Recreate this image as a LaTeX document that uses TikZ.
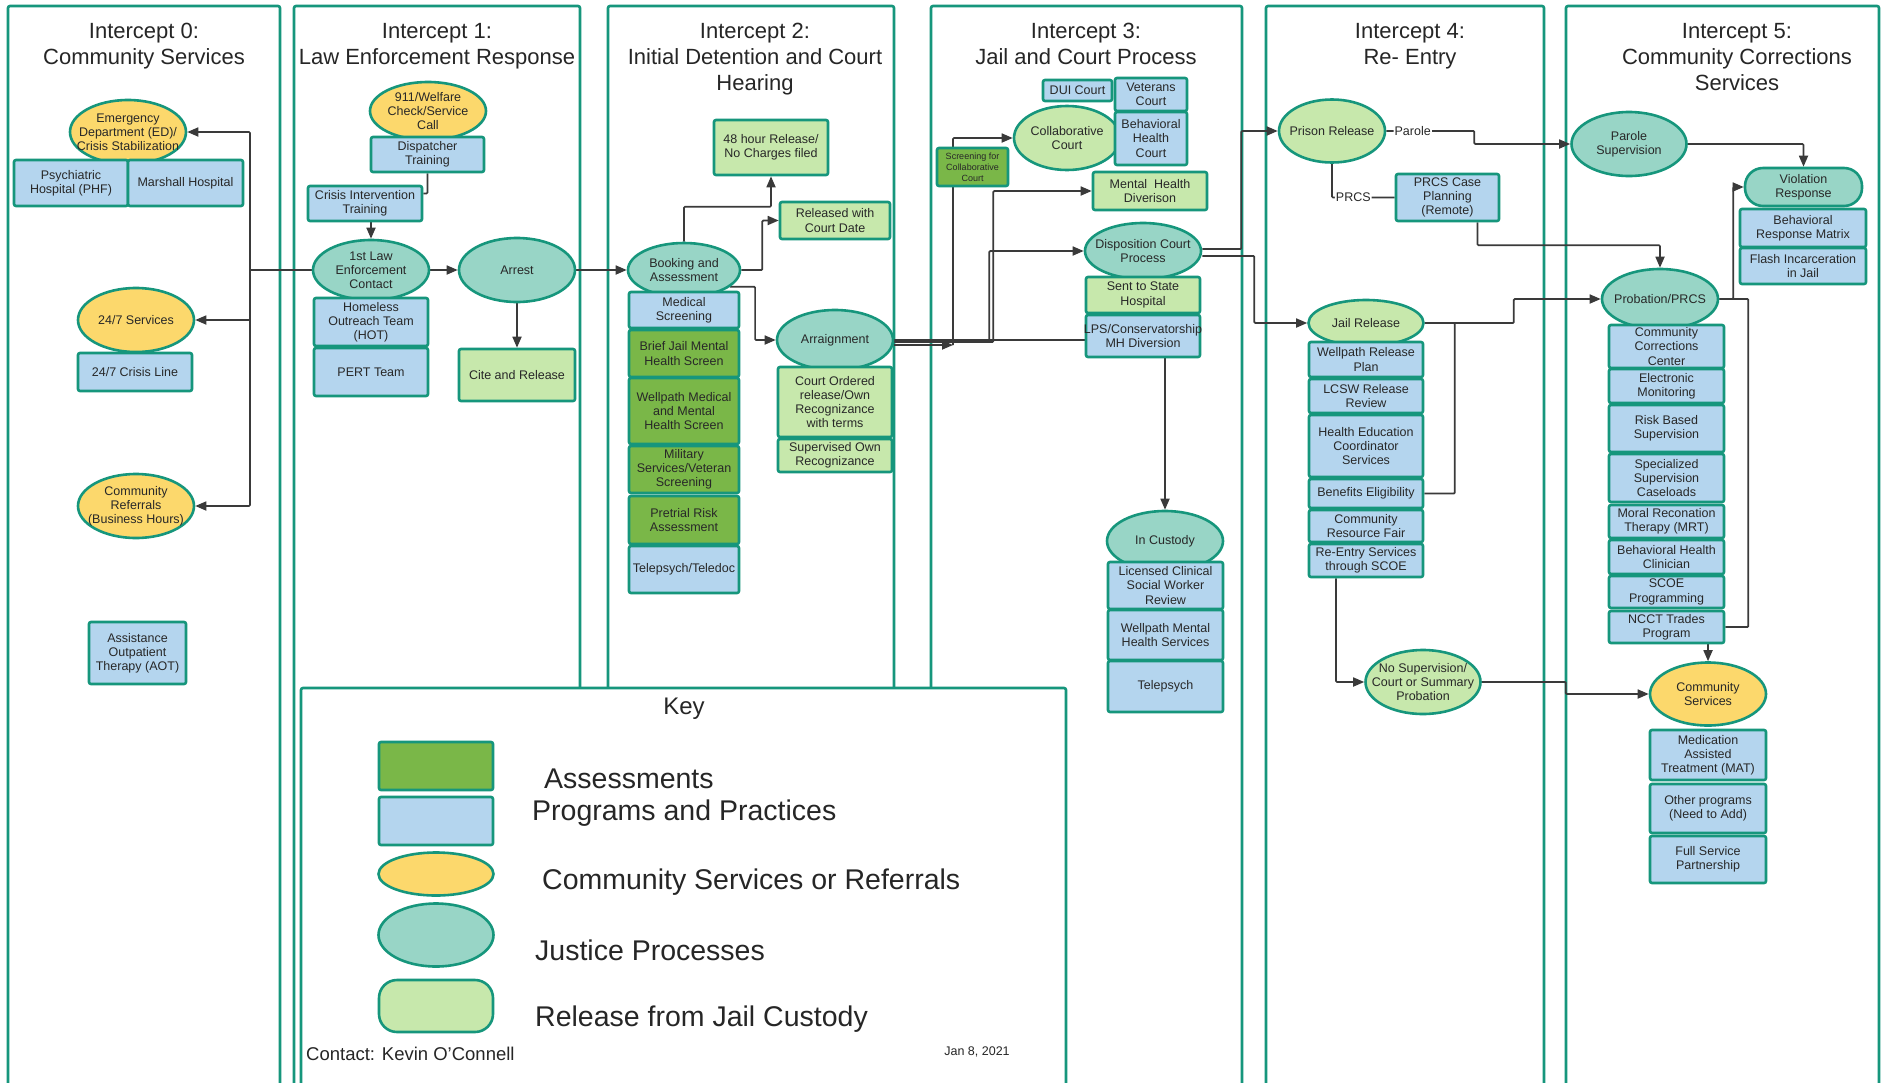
\documentclass[tikz,border=0pt]{standalone}
\usepackage{fontspec}
\setmainfont{Liberation Sans}
\usetikzlibrary{shapes.geometric,arrows.meta}
\pgfdeclarelayer{back}
\pgfsetlayers{back,main}
\definecolor{laneteal}{RGB}{22,150,124}
\definecolor{progblue}{RGB}{180,213,238}
\definecolor{assessgreen}{RGB}{122,183,72}
\definecolor{relgreen}{RGB}{199,232,172}
\definecolor{commyellow}{RGB}{252,216,108}
\definecolor{justteal}{RGB}{152,213,198}
\definecolor{wiregrey}{RGB}{58,58,58}
\definecolor{inkgrey}{RGB}{40,40,40}
\tikzset{
  shp/.style={draw=laneteal, line width=2.6pt, text=inkgrey, align=center, inner sep=1pt,
    font=\fontsize{12.5}{14.2}\selectfont},
  lbl/.style={text=inkgrey, align=center, inner sep=0pt, font=\fontsize{12.5}{14.2}\selectfont},
  prog/.style={shp, rectangle, rounded corners=2pt, fill=progblue},
  assess/.style={shp, rectangle, rounded corners=2pt, fill=assessgreen},
  freed/.style={shp, rectangle, rounded corners=2pt, fill=relgreen},
  commsvc/.style={shp, ellipse, fill=commyellow, label={[lbl]center:{#1}}},
  justice/.style={shp, ellipse, fill=justteal, label={[lbl]center:{#1}}},
  freedell/.style={shp, ellipse, fill=relgreen, label={[lbl]center:{#1}}},
  sz/.style 2 args={minimum width=#1pt, minimum height=#2pt},
  lane/.style={draw=laneteal, line width=2.6pt, rounded corners=2pt},
  lanetitle/.style={anchor=north, align=center, inner sep=0pt, text=black!85,
    font=\fontsize{22}{26}\selectfont},
  wire/.style={draw=wiregrey, line width=1.7pt, rounded corners=1pt},
  flow/.style={wire, -{Triangle[length=11pt,width=9pt]}},
  wirelbl/.style={fill=white, inner sep=1pt, text=inkgrey, font=\fontsize{12.5}{14}\selectfont},
  keytext/.style={anchor=west, inner sep=0pt, text=black!85, font=\fontsize{28.5}{32}\selectfont},
}
\begin{document}
\begin{tikzpicture}[x=1pt, y=-1pt]
  \useasboundingbox (0,0) rectangle (1881,1082);
  \begin{pgfonlayer}{back}
    \fill[white] (0,0) rectangle (1881,1082);
    \foreach \xa/\xb in {8/280, 294/580, 608/894, 931/1242, 1266/1544, 1566/1879}
      \draw[lane] (\xa,6) rectangle (\xb,1100);
  \end{pgfonlayer}

  \node[lanetitle] (t0) at (144,23) {Intercept 0:\\Community Services};
  \node[lanetitle] (t1) at (437,23) {Intercept 1:\\Law Enforcement Response};
  \node[lanetitle] (t2) at (755,23) {Intercept 2:\\Initial Detention and Court\\Hearing};
  \node[lanetitle] (t3) at (1086,23) {Intercept 3:\\Jail and Court Process};
  \node[lanetitle] (t4) at (1410,23) {Intercept 4:\\Re- Entry};
  \node[lanetitle] (t5) at (1737,23) {Intercept 5:\\Community Corrections\\Services};

  % Intercept 0
  \node[commsvc={Emergency\\Department (ED)/\\Crisis Stabilization}, sz={116}{64}] (ed) at (128,132) {};
  \node[prog, sz={114}{46}] (phf) at (71,183) {Psychiatric\\Hospital (PHF)};
  \node[prog, sz={115}{46}] (marsh) at (185.5,183) {Marshall Hospital};
  \node[commsvc={24/7 Services}, sz={116}{64}] (s247) at (136,320) {};
  \node[prog, sz={114}{38}] (cline) at (135,372) {24/7 Crisis Line};
  \node[commsvc={Community\\Referrals\\(Business Hours)}, sz={116}{64}] (cref) at (136,506) {};
  \node[prog, sz={97}{62}] (aot) at (137.5,653) {Assistance\\Outpatient\\Therapy (AOT)};

  % Intercept 1
  \node[commsvc={911/Welfare\\Check/Service\\Call}, sz={116}{58}] (call) at (428,111) {};
  \node[prog, sz={113}{35}] (dispatch) at (427.5,154.5) {Dispatcher\\Training};
  \node[prog, sz={114}{35}] (crisis) at (365,203.5) {Crisis Intervention\\Training};
  \node[justice={1st Law\\Enforcement\\Contact}, sz={116}{60}] (le) at (371,270) {};
  \node[prog, sz={114}{48}] (hot) at (371,322) {Homeless\\Outreach Team\\(HOT)};
  \node[prog, sz={114}{48}] (pert) at (371,372) {PERT Team};
  \node[justice={Arrest}, sz={116}{64}] (arrest) at (517,270) {};
  \node[freed, sz={116}{52}] (cite) at (517,375) {Cite and Release};

  % Intercept 2
  \node[freed, sz={114}{55}] (h48) at (771,147.5) {48 hour Release/\\No Charges filed};
  \node[freed, sz={110}{37}] (relcd) at (835,220.5) {Released with\\Court Date};
  \node[justice={Booking and\\Assessment}, sz={112}{54}] (book) at (684,270) {};
  \node[prog, sz={110}{36}] (med) at (684,310) {Medical\\Screening};
  \node[assess, sz={110}{47}] (brief) at (684,353.5) {Brief Jail Mental\\Health Screen};
  \node[assess, sz={110}{66}] (wellmed) at (684,411) {Wellpath Medical\\and Mental\\Health Screen};
  \node[assess, sz={110}{47}] (mil) at (684,469.5) {Military\\Services/Veteran\\Screening};
  \node[assess, sz={110}{48}] (pretrial) at (684,520) {Pretrial Risk\\Assessment};
  \node[prog, sz={110}{47}] (telepsy) at (684,569.5) {Telepsych/Teledoc};
  \node[justice={Arraignment}, sz={116}{60}] (arr) at (835,340) {};
  \node[freed, sz={114}{70}] (order) at (835,402) {Court Ordered\\release/Own\\Recognizance\\with terms};
  \node[freed, sz={114}{33}] (sor) at (835,455.5) {Supervised Own\\Recognizance};

  % Intercept 3
  \node[prog, sz={69}{21}] (dui) at (1077.5,90.5) {DUI Court};
  \node[prog, sz={72}{33}] (vet) at (1151,94.5) {Veterans\\Court};
  \node[freedell={Collaborative\\Court}, sz={106}{64}] (collab) at (1067,138) {};
  \node[prog, sz={72}{53}] (bhc) at (1151,138.5) {Behavioral\\Health\\Court};
  \node[assess, sz={71}{38}, font=\fontsize{9}{11}\selectfont] (scr) at (972.5,167) {Screening for\\Collaborative\\Court};
  \node[freed, sz={114}{38}] (mhd) at (1150,191) {Mental\ \ Health\\Diverison};
  \node[justice={Disposition Court\\Process}, sz={116}{56}] (dcp) at (1143,251) {};
  \node[freed, sz={114}{36}] (sth) at (1143,295) {Sent to State\\Hospital};
  \node[prog, sz={114}{42}] (lps) at (1143,336) {\makebox[0pt]{LPS/Conservatorship}\\MH Diversion};
  \node[justice={In Custody}, sz={116}{60}] (cust) at (1165,541) {};
  \node[prog, sz={115}{47}] (lcsw) at (1165.5,585.5) {Licensed Clinical\\Social Worker\\Review};
  \node[prog, sz={115}{50}] (wmh) at (1165.5,635) {Wellpath Mental\\Health Services};
  \node[prog, sz={115}{51}] (tpsy) at (1165.5,686.5) {Telepsych};

  % Intercept 4
  \node[freedell={Prison Release}, sz={106}{63}] (prison) at (1332,131) {};
  \node[prog, sz={103}{47}] (prcs) at (1447.5,197.5) {PRCS Case\\Planning\\(Remote)};
  \node[freedell={Jail Release}, sz={115}{46}] (jail) at (1366,323) {};
  \node[prog, sz={114}{35}] (wrp) at (1366,359.5) {Wellpath Release\\Plan};
  \node[prog, sz={114}{34}] (lcswr) at (1366,396) {LCSW Release\\Review};
  \node[prog, sz={114}{62}] (hec) at (1366,446) {Health Education\\Coordinator\\Services};
  \node[prog, sz={114}{29}] (ben) at (1366,493.5) {Benefits Eligibility};
  \node[prog, sz={114}{32}] (crf) at (1366,526) {Community\\Resource Fair};
  \node[prog, sz={114}{33}] (res) at (1366,560.5) {Re-Entry Services\\through SCOE};
  \node[freedell={No Supervision/\\Court or Summary\\Probation}, sz={115}{64}] (nosup) at (1423,682) {};

  % Intercept 5
  \node[justice={Parole\\Supervision}, sz={115}{64}] (parsup) at (1629,144) {};
  \node[shp, rectangle, rounded corners=18pt, fill=justteal, sz={117}{38}] (viol) at (1803.5,187) {Violation\\Response};
  \node[prog, sz={126}{38}] (brm) at (1803,228) {Behavioral\\Response Matrix};
  \node[prog, sz={126}{36}] (flash) at (1803,266) {Flash Incarceration\\in Jail};
  \node[justice={Probation/PRCS}, sz={116}{60}] (prob) at (1660,299) {};
  \node[prog, sz={115}{43}] (ccc) at (1666.5,346.5) {Community\\Corrections\\Center};
  \node[prog, sz={115}{34}] (elec) at (1666.5,386) {Electronic\\Monitoring};
  \node[prog, sz={115}{47}] (risk) at (1666.5,428.5) {Risk Based\\Supervision};
  \node[prog, sz={115}{48}] (spec) at (1666.5,478) {Specialized\\Supervision\\Caseloads};
  \node[prog, sz={115}{33}] (mrt) at (1666.5,521.5) {Moral Reconation\\Therapy (MRT)};
  \node[prog, sz={115}{34}] (bhcl) at (1666.5,557) {Behavioral Health\\Clinician};
  \node[prog, sz={115}{32}] (scoe) at (1666.5,592) {SCOE\\Programming};
  \node[prog, sz={115}{32}] (ncct) at (1666.5,627) {NCCT Trades\\Program};
  \node[commsvc={Community\\Services}, sz={116}{63}] (csvc) at (1708,694) {};
  \node[prog, sz={116}{50}] (mat) at (1708,755) {Medication\\Assisted\\Treatment (MAT)};
  \node[prog, sz={116}{49}] (other) at (1708,808.5) {Other programs\\(Need to Add)};
  \node[prog, sz={116}{47}] (fsp) at (1708,859.5) {Full Service\\Partnership};

  % key
  \draw[lane, fill=white] (301,688) rectangle (1066,1100);
  \node[inner sep=0pt, text=black!85, font=\fontsize{24}{26}\selectfont] (keyttl) at (684,709) {Key};
  \node[assess, sz={114}{48}] (kasm) at (436,766) {};
  \node[prog, sz={114}{48}] (kprog) at (436,821) {};
  \node[shp, ellipse, fill=commyellow, sz={115}{43}] (kcomm) at (436,874) {};
  \node[shp, ellipse, fill=justteal, sz={115}{63}] (kjust) at (436,935) {};
  \node[shp, rectangle, rounded corners=18pt, fill=relgreen, sz={114}{52}] (krel) at (436,1006) {};
  \node[keytext] (kasmtxt) at (544,779) {Assessments};
  \node[keytext] (kprogtxt) at (532,813) {Programs and Practices};
  \node[keytext] (kcommtxt) at (542,882) {Community Services or Referrals};
  \node[keytext] (kjusttxt) at (535,950) {Justice Processes};
  \node[keytext] (kreltxt) at (535,1019) {Release from Jail Custody};
  \node[anchor=west, inner sep=0pt, text=black!85, font=\fontsize{18.5}{22}\selectfont] (contact) at (306,1054) {Contact: Kevin O'Connell};
  \node[inner sep=0pt, text=black!85, font=\fontsize{12.5}{14}\selectfont] (date) at (977,1052) {Jan 8, 2021};

  \begin{pgfonlayer}{back}
    % Intercept 0 and 1
    \coordinate (fork0) at (250,270);
    \draw[wire] (le.west) -- (fork0);
    \draw[flow] (fork0) |- (ed.east);
    \draw[flow] (fork0) |- (s247.east);
    \draw[flow] (fork0) |- (cref.east);
    \draw[wire] (dispatch.south) |- ([yshift=10pt]crisis.east);
    \draw[flow] (le.north |- crisis.south) -- (le.north);
    \draw[flow] (le.east) -- (arrest.west);
    \draw[flow] (arrest.south) -- (cite.north);
    \draw[flow] (arrest.east) -- (book.west);
    % Intercept 2
    \draw[flow] (book.north) -- ++(0,-35) -| (h48.south);
    \draw[flow] (book.east) -- ++(21,0) |- (relcd.west);
    \draw[flow] (book.-20) -- ++(25,0) |- (arr.west);
    \draw[wire] (arr.east) -- (arr.east -| lps.west);
    \coordinate (scrfoot) at (953,345);
    \draw[flow] ([yshift=-5pt]arr.east) -- (scrfoot);
    \draw[flow] (scrfoot) |- (collab.west);
    \draw[flow] ([yshift=-2pt]arr.east) -- ++(99,0) |- (mhd.west);
    \draw[flow] ([yshift=-2pt]arr.east) -- ++(95,0) |- (dcp.west);
    % Intercept 3
    \draw[flow] (cust.north |- lps.south) -- (cust.north);
    \draw[flow] ([yshift=2pt]dcp.east) -- ++(39,0) |- (prison.west);
    \draw[flow] ([yshift=-5pt]dcp.east) -- ++(52,0) |- (jail.west);
    % Intercept 4
    \draw[flow] (prison.east) -- node[wirelbl, pos=0.3] {Parole} ++(88,0) |- (parsup.west);
    \draw[wire] (prison.south) |- node[wirelbl, pos=0.67] {PRCS} (prcs.west);
    \draw[flow] ([xshift=30pt]prcs.south) -- ++(0,23) -| (prob.north);
    \draw[flow] (jail.east) -- ++(89,0) |- (prob.west);
    \draw[wire] (jail.east) -- ++(30,0) |- (ben.east);
    \draw[flow] ([xshift=-30pt]res.south) |- (nosup.west);
    \draw[flow] (nosup.east) -- ++(84,0) |- (csvc.west);
    % Intercept 5
    \draw[flow] (parsup.east) -| (viol.north);
    \draw[flow] (prob.east) -- ++(14,0) |- (viol.west);
    \draw[wire] (prob.east) -- ++(29,0) |- (ncct.east);
    \draw[flow] (csvc.north |- ncct.south) -- (csvc.north);
  \end{pgfonlayer}
\end{tikzpicture}
\end{document}
